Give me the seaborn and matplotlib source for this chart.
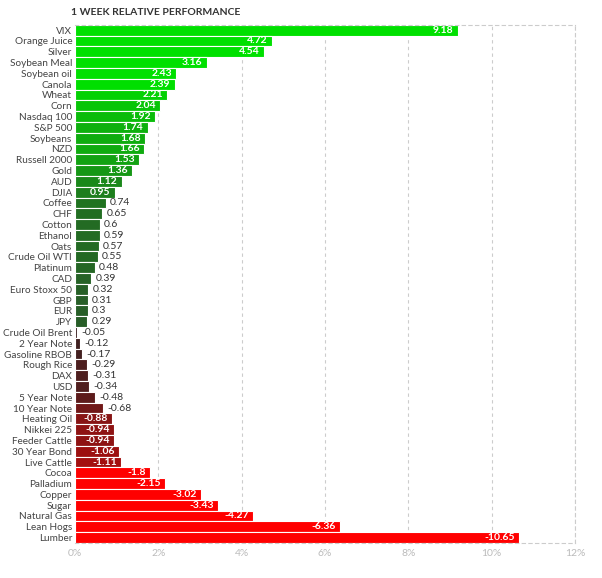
import matplotlib
matplotlib.use("Agg")
import matplotlib.pyplot as plt
import seaborn as sns
import numpy as np
import pandas as pd

names = ["VIX", "Orange Juice", "Silver", "Soybean Meal", "Soybean oil", "Canola", "Wheat", "Corn",
         "Nasdaq 100", "S&P 500", "Soybeans", "NZD", "Russell 2000", "Gold", "AUD", "DJIA", "Coffee",
         "CHF", "Cotton", "Ethanol", "Oats", "Crude Oil WTI", "Platinum", "CAD", "Euro Stoxx 50", "GBP",
         "EUR", "JPY", "Crude Oil Brent", "2 Year Note", "Gasoline RBOB", "Rough Rice", "DAX", "USD",
         "5 Year Note", "10 Year Note", "Heating Oil", "Nikkei 225", "Feeder Cattle", "30 Year Bond",
         "Live Cattle", "Cocoa", "Palladium", "Copper", "Sugar", "Natural Gas", "Lean Hogs", "Lumber"]
values = [9.18, 4.72, 4.54, 3.16, 2.43, 2.39, 2.21, 2.04, 1.92, 1.74, 1.68, 1.66, 1.53, 1.36, 1.12,
          0.95, 0.74, 0.65, 0.6, 0.59, 0.57, 0.55, 0.48, 0.39, 0.32, 0.31, 0.3, 0.29, -0.05, -0.12,
          -0.17, -0.29, -0.31, -0.34, -0.48, -0.68, -0.88, -0.94, -0.94, -1.06, -1.11, -1.8, -2.15,
          -3.02, -3.43, -4.27, -6.36, -10.65]

df = pd.DataFrame({"name": names, "value": values})
df["size"] = df["value"].abs()


def bar_color(v):
    if v >= 0:
        t = min(v / 2.4, 1.0) ** 1.3
        lo, hi = np.array([0x2a, 0x55, 0x2a]), np.array([0x00, 0xe0, 0x00])
    else:
        t = min(-v / 1.8, 1.0) ** 1.3
        lo, hi = np.array([0x3a, 0x22, 0x22]), np.array([0xff, 0x00, 0x00])
    c = lo + (hi - lo) * t
    return "#%02x%02x%02x" % tuple(int(x) for x in c)


colors = [bar_color(v) for v in values]

sns.set_style("white")
plt.rcParams["font.family"] = ["Lato", "DejaVu Sans"]

fig = plt.figure(figsize=(6.02, 5.78), dpi=100)
ax = fig.add_axes([0.1246, 0.0606, 0.8306, 0.8965])

sns.barplot(data=df, x="size", y="name", hue="name", palette=colors, legend=False,
            orient="h", width=1.0, saturation=1, edgecolor="white", linewidth=0.8, ax=ax)

ax.set_xlim(0, 12)
ax.set_ylim(len(names) - 0.5, -0.5)
ax.set_xticks(range(0, 13, 2))
ax.set_xticklabels([f"{t}%" for t in range(0, 13, 2)], color="#bbbbbb", fontsize=7.5)
ax.tick_params(axis="y", labelsize=7.2, labelcolor="#444444", length=0, pad=2)
ax.tick_params(axis="x", length=0, pad=4)
ax.set_xlabel("")
ax.set_ylabel("")
ax.grid(axis="x", linestyle=(0, (3, 3)), color="#cccccc", linewidth=0.8)
ax.set_axisbelow(True)
for s in ["top", "right", "bottom"]:
    ax.spines[s].set_visible(True)
    ax.spines[s].set_linestyle((0, (3, 3)))
    ax.spines[s].set_color("#cccccc")
    ax.spines[s].set_linewidth(0.8)
ax.spines["left"].set_visible(False)

for i, v in enumerate(values):
    a = abs(v)
    lab = f"{v:g}"
    if a >= 0.85:
        ax.text(a - 0.1, i, lab, ha="right", va="center", color="white",
                fontsize=7.5, fontweight="bold")
    else:
        ax.text(a + 0.1, i, lab, ha="left", va="center", color="#333333", fontsize=7.5)

fig.text(0.118, 0.978, "1 WEEK RELATIVE PERFORMANCE", fontsize=7.5, color="#333333",
         fontweight="bold", va="center")

fig.savefig("out.png", dpi=100)
